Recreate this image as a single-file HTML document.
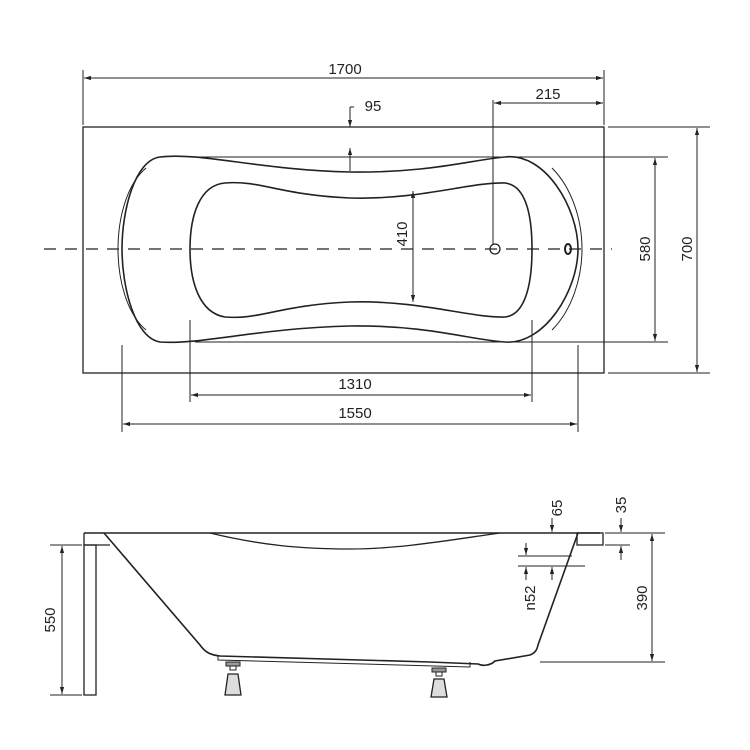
<!DOCTYPE html>
<html><head><meta charset="utf-8"><style>
html,body{margin:0;padding:0;background:#fff}
svg{display:block}
text{font-family:"Liberation Sans",sans-serif;font-size:15px;fill:#222}
</style></head><body>
<svg width="750" height="750" viewBox="0 0 750 750" xmlns="http://www.w3.org/2000/svg">
<defs>
<marker id="a" viewBox="0 0 10 10" refX="10" refY="5" markerWidth="7" markerHeight="7" orient="auto-start-reverse"><path d="M0,2 L10,5 L0,8 Z" fill="#222"/></marker>
</defs>
<g stroke="#222" fill="none" stroke-width="1.3">
<rect x="83" y="127" width="521" height="246"/>
<line x1="44" y1="249" x2="612" y2="249" stroke-dasharray="12,9"/>
<path d="M160,157 C135,160 122,210 122,249 C122,288 135,338 160,342 C200,345 260,328 350,326 C430,325 470,340 505,342 C545,345 578,290 578,249 C578,208 545,152 505,157 C470,160 430,173 350,172 C260,170 200,152 160,157 Z" stroke-width="1.6"/>
<path d="M146,168 C126,185 118,220 118,249 C118,278 126,313 146,330" stroke-width="1"/>
<path d="M552,168 C572,188 582,220 582,249 C582,278 572,310 552,330" stroke-width="1"/>
<line x1="195" y1="157" x2="500" y2="157" stroke-width="1"/>
<line x1="195" y1="342" x2="500" y2="342" stroke-width="1"/>
<path d="M225,183 C200,185 190,215 190,249 C190,283 200,313 225,317 C260,320 280,305 350,302 C420,300 470,318 505,317 C525,315 532,285 532,249 C532,213 525,185 505,183 C470,182 420,200 350,198 C280,195 260,180 225,183 Z" stroke-width="1.6"/>
<circle cx="495" cy="249" r="5"/>
<ellipse cx="568" cy="249" rx="3" ry="5" stroke-width="2"/>
<line x1="83" y1="70" x2="83" y2="125" stroke-width="1"/>
<line x1="604" y1="70" x2="604" y2="125" stroke-width="1"/>
<line x1="84" y1="78" x2="603" y2="78" stroke-width="1" marker-start="url(#a)" marker-end="url(#a)"/>
<line x1="493" y1="100" x2="493" y2="244" stroke-width="1"/>
<line x1="494" y1="103" x2="603" y2="103" stroke-width="1" marker-start="url(#a)" marker-end="url(#a)"/>
<line x1="350" y1="107" x2="350" y2="127" stroke-width="1" marker-end="url(#a)"/>
<line x1="350" y1="148" x2="350" y2="171" stroke-width="1" marker-start="url(#a)"/>
<line x1="350" y1="107" x2="354" y2="107" stroke-width="1"/>
<line x1="413" y1="191" x2="413" y2="302" stroke-width="1" marker-start="url(#a)" marker-end="url(#a)"/>
<line x1="505" y1="157" x2="668" y2="157" stroke-width="1"/>
<line x1="505" y1="342" x2="668" y2="342" stroke-width="1"/>
<line x1="655" y1="158" x2="655" y2="341" stroke-width="1" marker-start="url(#a)" marker-end="url(#a)"/>
<line x1="608" y1="127" x2="710" y2="127" stroke-width="1"/>
<line x1="608" y1="373" x2="710" y2="373" stroke-width="1"/>
<line x1="697" y1="128" x2="697" y2="372" stroke-width="1" marker-start="url(#a)" marker-end="url(#a)"/>
<line x1="190" y1="320" x2="190" y2="402" stroke-width="1"/>
<line x1="532" y1="320" x2="532" y2="402" stroke-width="1"/>
<line x1="191" y1="395" x2="531" y2="395" stroke-width="1" marker-start="url(#a)" marker-end="url(#a)"/>
<line x1="122" y1="345" x2="122" y2="432" stroke-width="1"/>
<line x1="578" y1="345" x2="578" y2="432" stroke-width="1"/>
<line x1="123" y1="424" x2="577" y2="424" stroke-width="1" marker-start="url(#a)" marker-end="url(#a)"/>

<line x1="84" y1="533" x2="600" y2="533" stroke-width="1.5"/>
<rect x="577" y="533" width="26" height="12" stroke-width="1.3"/>
<path d="M84,533 L84,545 L110,545" stroke-width="1.3"/>
<rect x="84" y="545" width="12" height="150" stroke-width="1.3"/>
<path d="M104,533 L200,645 C205,652 210,655 220,656 L430,662 L478,664 C482,666 490,666 495,661 L530,655 C535,653 537,650 538,645 L578,533" stroke-width="1.6"/>
<path d="M210,533 C260,545 300,549 350,549 C400,549 450,540 500,533" stroke-width="1.3"/>
<path d="M218,656 L218,660 L470,667 L470,662" stroke-width="1"/>
<rect x="226" y="662" width="14" height="4" fill="#999" stroke-width="1"/>
<path d="M230,666 L230,670 L236,670 L236,666" stroke-width="1"/>
<path d="M228,674 L238,674 L241,695 L225,695 Z" fill="#ddd"/>
<rect x="432" y="668" width="14" height="4" fill="#999" stroke-width="1"/>
<path d="M436,672 L436,676 L442,676 L442,672" stroke-width="1"/>
<path d="M434,679 L444,679 L447,697 L431,697 Z" fill="#ddd"/>
<line x1="50" y1="545" x2="82" y2="545" stroke-width="1"/>
<line x1="50" y1="695" x2="82" y2="695" stroke-width="1"/>
<line x1="62" y1="546" x2="62" y2="694" stroke-width="1" marker-start="url(#a)" marker-end="url(#a)"/>
<line x1="605" y1="533" x2="665" y2="533" stroke-width="1"/>
<line x1="540" y1="662" x2="665" y2="662" stroke-width="1"/>
<line x1="652" y1="534" x2="652" y2="661" stroke-width="1" marker-start="url(#a)" marker-end="url(#a)"/>
<line x1="552" y1="518" x2="552" y2="532" stroke-width="1" marker-end="url(#a)"/>
<line x1="621" y1="518" x2="621" y2="532" stroke-width="1" marker-end="url(#a)"/>
<line x1="605" y1="545" x2="630" y2="545" stroke-width="1"/>
<line x1="621" y1="560" x2="621" y2="546" stroke-width="1" marker-end="url(#a)"/>
<line x1="518" y1="556" x2="572" y2="556" stroke-width="1"/>
<line x1="518" y1="566" x2="585" y2="566" stroke-width="1"/>
<line x1="526" y1="543" x2="526" y2="555" stroke-width="1" marker-end="url(#a)"/>
<line x1="526" y1="580" x2="526" y2="567" stroke-width="1" marker-end="url(#a)"/>
<line x1="552" y1="580" x2="552" y2="567" stroke-width="1" marker-end="url(#a)"/>
</g>
<text x="345" y="74" text-anchor="middle">1700</text>
<text x="548" y="99" text-anchor="middle">215</text>
<text x="373" y="111" text-anchor="middle">95</text>
<text x="355" y="389" text-anchor="middle">1310</text>
<text x="355" y="418" text-anchor="middle">1550</text>
<text transform="translate(407,234) rotate(-90)" text-anchor="middle">410</text>
<text transform="translate(650,249) rotate(-90)" text-anchor="middle">580</text>
<text transform="translate(692,249) rotate(-90)" text-anchor="middle">700</text>
<text transform="translate(55,620) rotate(-90)" text-anchor="middle">550</text>
<text transform="translate(647,598) rotate(-90)" text-anchor="middle">390</text>
<text transform="translate(535,598) rotate(-90)" text-anchor="middle">n52</text>
<text transform="translate(562,508) rotate(-90)" text-anchor="middle">65</text>
<text transform="translate(626,505) rotate(-90)" text-anchor="middle">35</text>
</svg>
</body></html>
